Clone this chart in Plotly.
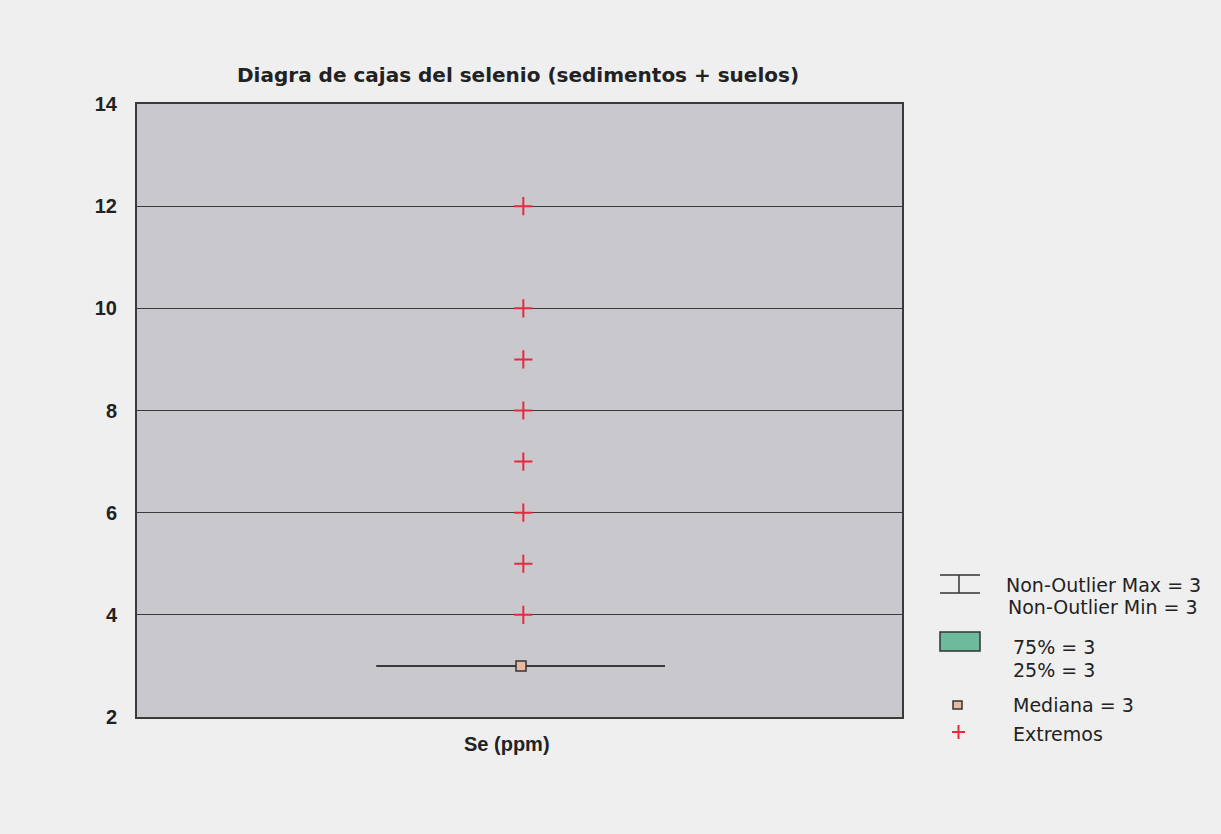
import plotly.graph_objects as go

category = ["Se (ppm)"]
non_outlier_min = [3]
non_outlier_max = [3]
q25 = [3]
q75 = [3]
median = [3]
extremes = [4, 5, 6, 7, 8, 9, 10, 12]
y_ticks = [2, 4, 6, 8, 10, 12, 14]

OFF = 8  # page body margin
W, H = 1221 - 2 * OFF, 834 - 2 * OFF
# target plot area in page pixels
L, R, T, B = 137, 902, 104, 717

def px(x):
    return (x - L) / (R - L)

def py(y):
    return (B - y) / (B - T)

FONT = "Liberation Sans, Arial, sans-serif"
WIDE = "DejaVu Sans, Liberation Sans, sans-serif"
BG = "#efefef"

fig = go.Figure()

# whisker (non-outlier range) drawn at the median level
fig.add_trace(go.Scatter(
    x=[-0.187, 0.19], y=[non_outlier_min[0], non_outlier_max[0]],
    mode="lines", line=dict(color="#3a3a3a", width=2), showlegend=False, hoverinfo="skip"))
# box 25-75 (zero height)
fig.add_trace(go.Scatter(
    x=[-0.187, 0.19], y=[q25[0], q75[0]],
    mode="lines", line=dict(color="#3a3a3a", width=2), showlegend=False, hoverinfo="skip"))
# median
fig.add_trace(go.Scatter(
    x=[0.002], y=median, mode="markers",
    marker=dict(symbol="square", size=10, color="#e8b8a0", line=dict(color="#333333", width=1.5)),
    showlegend=False))
# extremes
fig.add_trace(go.Scatter(
    x=[0.005] * len(extremes), y=extremes, mode="markers",
    marker=dict(symbol="cross-thin", size=13, line=dict(color="#e8283f", width=2)),
    showlegend=False))

shapes = []
annotations = []
font = dict(family=WIDE, size=19, color="#222222")

# legend symbols
lc = dict(color="#333", width=1.5)
shapes.append(dict(type="line", xref="paper", yref="paper", x0=px(940), x1=px(980), y0=py(575), y1=py(575), line=lc))
shapes.append(dict(type="line", xref="paper", yref="paper", x0=px(940), x1=px(980), y0=py(593), y1=py(593), line=lc))
shapes.append(dict(type="line", xref="paper", yref="paper", x0=px(959), x1=px(959), y0=py(575), y1=py(593), line=lc))
shapes.append(dict(type="rect", xref="paper", yref="paper", x0=px(940), x1=px(980), y0=py(651), y1=py(632), fillcolor="#6dbb9c", line=lc))
shapes.append(dict(type="rect", xref="paper", yref="paper", x0=px(953), x1=px(962), y0=py(709), y1=py(701), fillcolor="#e8b8a0", line=lc))
shapes.append(dict(type="line", xref="paper", yref="paper", x0=px(952), x1=px(965), y0=py(732), y1=py(732), line=dict(color="#e8283f", width=2)))
shapes.append(dict(type="line", xref="paper", yref="paper", x0=px(958.5), x1=px(958.5), y0=py(725), y1=py(739), line=dict(color="#e8283f", width=2)))

legend_texts = [
    (1004, 585, f"Non-Outlier Max = {non_outlier_max[0]}"),
    (1006, 607, f"Non-Outlier Min = {non_outlier_min[0]}"),
    (1011, 647, f"75% = {q75[0]}"),
    (1011, 670, f"25% = {q25[0]}"),
    (1011, 705, f"Mediana = {median[0]}"),
    (1011, 734, "Extremos"),
]
for x, y, t in legend_texts:
    annotations.append(dict(xref="paper", yref="paper", x=px(x), y=py(y), text=t, showarrow=False,
                            xanchor="left", yanchor="middle", font=font))

annotations.append(dict(xref="paper", yref="paper", x=px(518), y=py(75),
                        text="<b>Diagra de cajas del selenio (sedimentos + suelos)</b>",
                        showarrow=False, xanchor="center", yanchor="middle",
                        font=dict(family=WIDE, size=20, color="#222222")))
# category label
annotations.append(dict(xref="paper", yref="paper", x=px(507), y=py(744),
                        text="<b>" + category[0] + "</b>",
                        showarrow=False, xanchor="center", yanchor="middle",
                        font=dict(family=FONT, size=20, color="#222222")))

fig.update_layout(
    width=W, height=H,
    margin=dict(l=L - OFF, r=W - (R - OFF), t=T - OFF, b=H - (B - OFF), pad=0),
    paper_bgcolor=BG,
    plot_bgcolor="#c9c9cd",
    xaxis=dict(range=[-0.5, 0.5], showticklabels=False,
               showgrid=False, zeroline=False, showline=True, mirror=True, linecolor="#3a3a3a", linewidth=2,
               ticks="", fixedrange=True),
    yaxis=dict(range=[2, 14], tickvals=y_ticks, ticktext=[f"<b>{v}</b>" for v in y_ticks],
               showgrid=True, gridcolor="#3a3a3a", gridwidth=1, zeroline=False,
               showline=True, mirror=True, linecolor="#3a3a3a", linewidth=2, ticks="",
               ticklabelstandoff=14,
               tickfont=dict(family=FONT, size=20, color="#222")),
    shapes=shapes,
    annotations=annotations,
    showlegend=False,
)

fig.write_html("out.html", post_script=f"document.body.style.background='{BG}';")
